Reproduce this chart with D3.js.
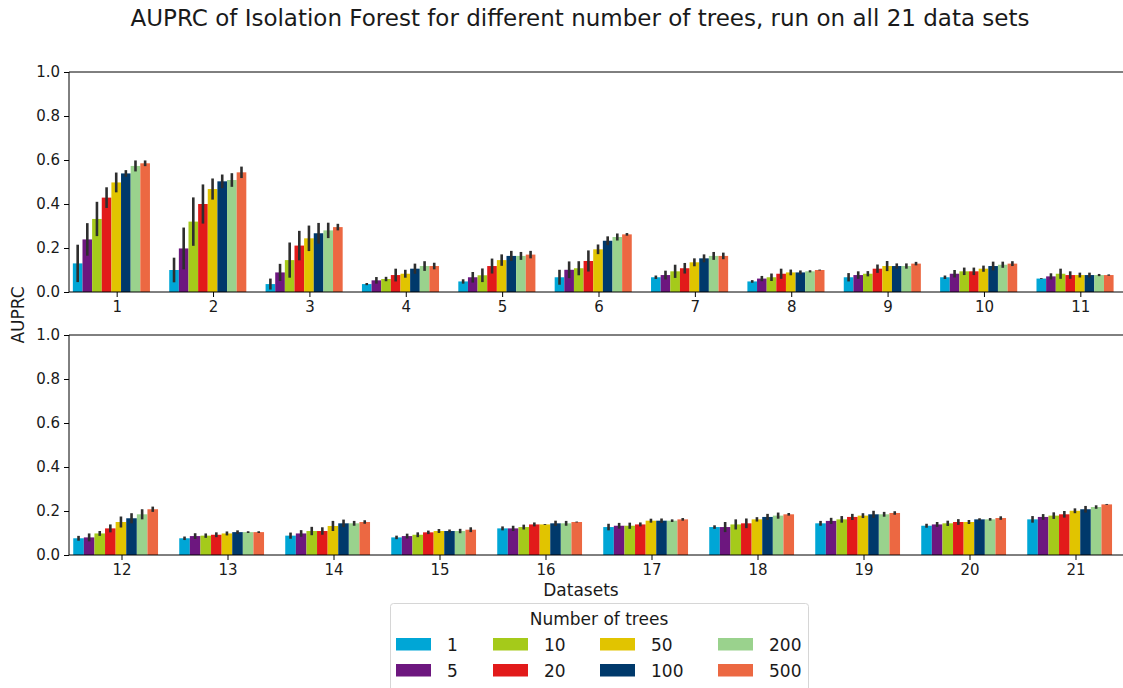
<!DOCTYPE html>
<html>
<head>
<meta charset="utf-8">
<script src="https://cdn.jsdelivr.net/npm/d3@7"></script>
<style>
  html, body { margin: 0; padding: 0; background: #fff; overflow: hidden; }
  svg { display: block; font-family: "DejaVu Sans", sans-serif; }
</style>
</head>
<body>
<svg id="chart" width="1123" height="688"></svg>
<script>
// Data sets shown in each panel
const datasetsTop = [1, 2, 3, 4, 5, 6, 7, 8, 9, 10, 11];
const datasetsBottom = [12, 13, 14, 15, 16, 17, 18, 19, 20, 21];

// Number of trees (hue levels)
const trees = ["1", "5", "10", "20", "50", "100", "200", "500"];
const treeColors = ["#00A6D6", "#6D177F", "#A5CA1A", "#E21A1A", "#E1C400", "#00396B", "#9AD28D", "#EC6842"];

const yTicks = [0, 0.2, 0.4, 0.6, 0.8, 1.0];

// Mean AUPRC per data set (1..21) for each number of trees
const mean1   = [0.130, 0.100, 0.036, 0.036, 0.048, 0.067, 0.067, 0.048, 0.067, 0.067, 0.061, 0.076, 0.076, 0.088, 0.080, 0.121, 0.127, 0.127, 0.144, 0.133, 0.162];
const mean5   = [0.239, 0.198, 0.089, 0.053, 0.067, 0.101, 0.077, 0.061, 0.077, 0.083, 0.071, 0.080, 0.086, 0.098, 0.086, 0.121, 0.133, 0.127, 0.155, 0.139, 0.173];
const mean10  = [0.332, 0.320, 0.145, 0.059, 0.076, 0.108, 0.094, 0.067, 0.083, 0.094, 0.083, 0.098, 0.088, 0.109, 0.092, 0.127, 0.133, 0.139, 0.162, 0.144, 0.179];
const mean20  = [0.429, 0.400, 0.211, 0.077, 0.118, 0.141, 0.108, 0.083, 0.106, 0.094, 0.077, 0.121, 0.092, 0.109, 0.103, 0.139, 0.139, 0.144, 0.173, 0.150, 0.185];
const mean50  = [0.498, 0.468, 0.244, 0.083, 0.145, 0.194, 0.135, 0.089, 0.118, 0.106, 0.077, 0.150, 0.098, 0.132, 0.109, 0.139, 0.156, 0.162, 0.179, 0.150, 0.201];
const mean100 = [0.539, 0.503, 0.267, 0.106, 0.164, 0.233, 0.153, 0.089, 0.118, 0.118, 0.077, 0.167, 0.104, 0.144, 0.109, 0.144, 0.156, 0.173, 0.185, 0.162, 0.208];
const mean200 = [0.573, 0.509, 0.280, 0.118, 0.164, 0.250, 0.164, 0.094, 0.118, 0.124, 0.077, 0.185, 0.104, 0.144, 0.109, 0.144, 0.156, 0.179, 0.185, 0.162, 0.218];
const mean500 = [0.585, 0.544, 0.295, 0.118, 0.170, 0.262, 0.164, 0.100, 0.129, 0.129, 0.077, 0.208, 0.104, 0.150, 0.115, 0.150, 0.162, 0.185, 0.191, 0.168, 0.230];

// Half-width of the confidence interval per data set
const err1   = [0.085, 0.056, 0.025, 0.005, 0.010, 0.034, 0.008, 0.006, 0.019, 0.008, 0.002, 0.011, 0.008, 0.014, 0.008, 0.009, 0.015, 0.008, 0.011, 0.009, 0.015];
const err5   = [0.074, 0.095, 0.039, 0.015, 0.024, 0.038, 0.020, 0.012, 0.017, 0.017, 0.014, 0.018, 0.013, 0.015, 0.011, 0.012, 0.013, 0.023, 0.014, 0.011, 0.013];
const err10  = [0.078, 0.110, 0.080, 0.010, 0.031, 0.032, 0.030, 0.017, 0.012, 0.017, 0.023, 0.011, 0.010, 0.019, 0.011, 0.011, 0.014, 0.023, 0.015, 0.012, 0.015];
const err20  = [0.047, 0.089, 0.067, 0.029, 0.034, 0.048, 0.024, 0.023, 0.019, 0.017, 0.017, 0.018, 0.011, 0.017, 0.008, 0.009, 0.009, 0.022, 0.014, 0.013, 0.015];
const err50  = [0.045, 0.048, 0.058, 0.018, 0.026, 0.022, 0.018, 0.013, 0.023, 0.014, 0.011, 0.025, 0.009, 0.023, 0.009, 0.002, 0.009, 0.010, 0.011, 0.009, 0.011];
const err100 = [0.015, 0.031, 0.047, 0.023, 0.023, 0.020, 0.018, 0.009, 0.012, 0.020, 0.011, 0.023, 0.008, 0.017, 0.007, 0.012, 0.010, 0.014, 0.016, 0.005, 0.015];
const err200 = [0.025, 0.031, 0.035, 0.022, 0.018, 0.016, 0.018, 0.005, 0.012, 0.014, 0.005, 0.023, 0.004, 0.011, 0.010, 0.011, 0.006, 0.014, 0.011, 0.006, 0.008];
const err500 = [0.013, 0.026, 0.015, 0.015, 0.017, 0.006, 0.015, 0.002, 0.008, 0.011, 0.003, 0.012, 0.004, 0.008, 0.011, 0.002, 0.006, 0.006, 0.008, 0.008, 0.002];

const means = [mean1, mean5, mean10, mean20, mean50, mean100, mean200, mean500];
const errs = [err1, err5, err10, err20, err50, err100, err200, err500];

// Long-format rows: one per (data set, number of trees)
const rows = [];
datasetsTop.concat(datasetsBottom).forEach((ds, di) => {
  trees.forEach((t, ti) => {
    rows.push({ dataset: ds, trees: t, value: means[ti][di], err: errs[ti][di] });
  });
});

const svg = d3.select("#chart");
const left = 69, right = 1129;
const panels = [
  { sets: datasetsTop, top: 72, bottom: 292 },
  { sets: datasetsBottom, top: 335, bottom: 555 }
];
const axisColor = "#000";
const color = d3.scaleOrdinal().domain(trees).range(treeColors);

panels.forEach(p => {
  const g = svg.append("g");
  const x = d3.scaleBand().domain(p.sets).range([left, right]).padding(0);
  const bw = x.bandwidth();
  const hue = d3.scaleBand().domain(trees).range([-0.46 * bw, 0.34 * bw]).padding(0);
  const y = d3.scaleLinear().domain([0, 1]).range([p.bottom, p.top]);
  const data = rows.filter(r => p.sets.includes(r.dataset));
  const center = d => x(d.dataset) + bw / 2;

  // bars
  g.selectAll("rect.bar").data(data).join("rect")
    .attr("class", "bar")
    .attr("x", d => center(d) + hue(d.trees))
    .attr("width", hue.bandwidth())
    .attr("y", d => y(d.value))
    .attr("height", d => y(0) - y(d.value))
    .attr("fill", d => color(d.trees));

  // error bars
  g.selectAll("line.err").data(data).join("line")
    .attr("class", "err")
    .attr("x1", d => center(d) + hue(d.trees) + hue.bandwidth() / 2)
    .attr("x2", d => center(d) + hue(d.trees) + hue.bandwidth() / 2)
    .attr("y1", d => y(Math.max(0, d.value - d.err)))
    .attr("y2", d => y(d.value + d.err))
    .attr("stroke", "#2e2e2e")
    .attr("stroke-width", 2.6);

  // axes
  const xAxis = d3.axisBottom(x).tickSize(5).tickPadding(4);
  const gx = g.append("g").attr("transform", `translate(0,${p.bottom})`).call(xAxis);
  gx.select(".domain").remove();
  gx.selectAll("text").attr("font-size", 15).attr("fill", "#1a1a1a").attr("font-family", "DejaVu Sans");
  gx.selectAll("line").attr("stroke", axisColor);

  const yAxis = d3.axisLeft(y).tickValues(yTicks).tickFormat(d3.format(".1f")).tickSize(5).tickPadding(4);
  const gy = g.append("g").attr("transform", `translate(${left},0)`).call(yAxis);
  gy.select(".domain").remove();
  gy.selectAll("text").attr("font-size", 15).attr("fill", "#1a1a1a").attr("font-family", "DejaVu Sans");
  gy.selectAll("line").attr("stroke", axisColor);

  // spines: left, bottom, top
  g.append("line").attr("x1", left).attr("x2", left).attr("y1", p.top).attr("y2", p.bottom)
    .attr("stroke", axisColor).attr("stroke-width", 1);
  g.append("line").attr("x1", left).attr("x2", right).attr("y1", p.bottom).attr("y2", p.bottom)
    .attr("stroke", axisColor).attr("stroke-width", 1);
  g.append("line").attr("x1", left).attr("x2", right).attr("y1", p.top).attr("y2", p.top)
    .attr("stroke", axisColor).attr("stroke-width", 1);
  g.append("line").attr("x1", right).attr("x2", right).attr("y1", p.top).attr("y2", p.bottom)
    .attr("stroke", axisColor).attr("stroke-width", 1);
});

// title and shared axis labels
svg.append("text").attr("x", 580).attr("y", 26).attr("text-anchor", "middle")
  .attr("font-size", 23).attr("fill", "#1a1a1a")
  .text("AUPRC of Isolation Forest for different number of trees, run on all 21 data sets");
svg.append("text").attr("x", 581).attr("y", 596).attr("text-anchor", "middle")
  .attr("font-size", 17).attr("fill", "#1a1a1a").text("Datasets");
svg.append("text").attr("transform", "translate(24,315) rotate(-90)").attr("text-anchor", "middle")
  .attr("font-size", 17).attr("fill", "#1a1a1a").text("AUPRC");

// legend
const lg = svg.append("g");
lg.append("rect").attr("x", 390.5).attr("y", 603.5).attr("width", 418).attr("height", 100)
  .attr("rx", 3).attr("fill", "#fff").attr("stroke", "#d6d6d6").attr("stroke-width", 1);
lg.append("text").attr("x", 599).attr("y", 625).attr("text-anchor", "middle")
  .attr("font-size", 17).attr("fill", "#1a1a1a").text("Number of trees");
const colX = [396, 493, 600, 718];
const rowY = [638, 664];
trees.forEach((t, i) => {
  const c = Math.floor(i / 2), r = i % 2;
  lg.append("rect").attr("x", colX[c]).attr("y", rowY[r]).attr("width", 35).attr("height", 12.5)
    .attr("fill", color(t));
  lg.append("text").attr("x", colX[c] + 51).attr("y", rowY[r] + 12.5)
    .attr("font-size", 17).attr("fill", "#1a1a1a").text(t);
});
</script>
</body>
</html>
